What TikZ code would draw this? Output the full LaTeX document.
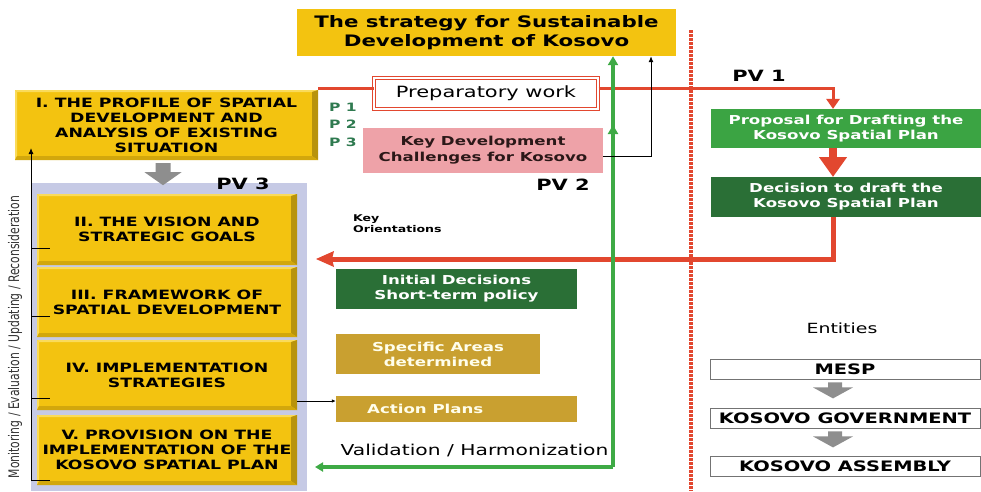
\documentclass[tikz,border=0pt]{standalone}
\usepackage{fontspec}
\setmainfont[FakeStretch=1.35]{DejaVu Sans}
\newfontfamily\plainfont{DejaVu Sans}
\usetikzlibrary{arrows.meta,calc}
\definecolor{ygold}{HTML}{F3C310}
\definecolor{ydark}{HTML}{B8930C}
\definecolor{ymid}{HTML}{D2A70C}
\definecolor{ylight}{HTML}{FADB5A}
\definecolor{lav}{HTML}{C6CAE5}
\definecolor{rline}{HTML}{E2472F}
\definecolor{gline}{HTML}{3EAA45}
\definecolor{gprop}{HTML}{3BA443}
\definecolor{gdark}{HTML}{2A6F36}
\definecolor{pinkbox}{HTML}{EEA2A8}
\definecolor{ochre}{HTML}{C9A030}
\definecolor{ptext}{HTML}{2F7A50}
\definecolor{greyarr}{HTML}{8E8E8E}
\definecolor{keytext}{HTML}{2B1818}
\begin{document}
\begin{tikzpicture}[x=1pt,y=-1pt,
  ybox/.style={fill=ygold, inner sep=0pt, align=center, text=black,
    font=\fontsize{12.8}{15}\selectfont\bfseries,
    path picture={
      \path (path picture bounding box.north east) coordinate (pNE)
            (path picture bounding box.south east) coordinate (pSE)
            (path picture bounding box.south west) coordinate (pSW)
            (path picture bounding box.north west) coordinate (pNW);
      \fill[ylight] (pNW) -- (pNE) -- ($(pNE)+(-6,2)$) -- ($(pNW)+(2,2)$) -- cycle;
      \fill[ylight] (pNW) -- (pSW) -- ($(pSW)+(2,-4)$) -- ($(pNW)+(2,2)$) -- cycle;
      \fill[ydark] (pNE) -- (pSE) -- ($(pSE)+(-6,-4)$) -- ($(pNE)+(-6,2)$) -- cycle;
      \fill[ymid] (pSW) -- (pSE) -- ($(pSE)+(-6,-4)$) -- ($(pSW)+(2,-4)$) -- cycle;
    }},
  flatbox/.style={inner sep=0pt, align=center},
  whitebold/.style={text=white, font=\fontsize{12.3}{15}\selectfont\bfseries},
  pvlabel/.style={inner sep=0pt, font=\fontsize{15.5}{18}\selectfont\bfseries},
  plabel/.style={inner sep=0pt, text=ptext, font=\fontsize{11.5}{13}\selectfont\bfseries},
  entbox/.style={draw=black!55, line width=0.8pt, fill=white, inner sep=0pt,
    minimum width=270pt, minimum height=20pt, font=\fontsize{14.4}{16}\selectfont\bfseries},
  redthin/.style={draw=rline, line width=3pt},
  redthick/.style={draw=rline, line width=5pt},
  greenl/.style={draw=gline, line width=3.5pt},
  thinblack/.style={draw=black, line width=0.9pt}
]
\useasboundingbox (0,0) rectangle (981,491);

% dotted separator
\coordinate (dtop) at (691,30);
\coordinate (dbot) at (691,491);
\draw[rline, line width=3.5pt, dash pattern=on 2.5pt off 1.5pt] (dtop) -- (dbot);

% strategy box
\node[flatbox, fill=ygold, minimum width=379pt, minimum height=47pt,
  font=\fontsize{15.8}{19}\selectfont\bfseries] (strat) at (486.5,32.5)
  {The strategy for Sustainable\\Development of Kosovo};

% box I
\node[ybox, minimum width=303pt, minimum height=70pt] (I) at (166.5,125)
  {I. THE PROFILE OF SPATIAL\\DEVELOPMENT AND\\ANALYSIS OF EXISTING\\SITUATION};

% panel
\node[fill=lav, inner sep=0pt, minimum width=276pt, minimum height=308pt] (panel) at (169,337) {};

% yellow boxes
\node[ybox, minimum width=260pt, minimum height=71pt] (II) at (167,229.5)
  {II. THE VISION AND\\STRATEGIC GOALS};
\node[ybox, minimum width=260pt, minimum height=70pt] (III) at (167,302)
  {III. FRAMEWORK OF\\SPATIAL DEVELOPMENT};
\node[ybox, minimum width=260pt, minimum height=70pt] (IV) at (167,375)
  {IV. IMPLEMENTATION\\STRATEGIES};
\node[ybox, minimum width=260pt, minimum height=70pt] (V) at (167,450)
  {V. PROVISION ON THE\\IMPLEMENTATION OF THE\\KOSOVO SPATIAL PLAN};

\node[pvlabel] (pv3) at (243,184) {PV 3};

% grey arrow I -> panel
\fill[greyarr] ($(I.south)+(-11,3)$) -- ($(I.south)+(4,3)$) -- ($(I.south)+(4,12)$)
  -- ($(I.south)+(15,12)$) -- ($(I.south)+(-3.5,25)$) -- ($(I.south)+(-22,12)$)
  -- ($(I.south)+(-11,12)$) -- cycle;

% monitoring line
\coordinate (mbot) at (31,481);
\coordinate (mtop) at (31,148);
\draw[thinblack, -{Latex[length=6pt,width=5pt]}] (mbot) -- (mtop);
\foreach \yy in {248,316,398,480}{
  \draw[thinblack] (31,\yy) -- (50,\yy);
}
\node[rotate=90, inner sep=0pt, text=black!80] (mon) at (15,337)
  {\scalebox{1}[1.35]{\plainfont\fontsize{10.8}{13}\selectfont Monitoring / Evaluation / Updating / Reconsideration}};

% P labels
\node[plabel] (p1) at (343,107) {P 1};
\node[plabel] (p2) at (343,124.5) {P 2};
\node[plabel] (p3) at (343,142) {P 3};

% preparatory work
\node[flatbox, draw=rline, line width=1pt, double=white, double distance=2pt, fill=white,
  minimum width=224pt, minimum height=31pt, font=\fontsize{15.5}{18}\selectfont] (prep) at (486,93.5)
  {Preparatory work};

% key development
\node[flatbox, fill=pinkbox, minimum width=240pt, minimum height=45pt, text=keytext,
  font=\fontsize{12.3}{16}\selectfont\bfseries] (key) at (483,150.5)
  {Key Development\\Challenges for Kosovo};

\node[pvlabel] (pv2) at (563,185) {PV 2};
\node[pvlabel] (pv1) at (759,76) {PV 1};

% right column
\node[flatbox, fill=gprop, minimum width=270pt, minimum height=39pt, whitebold] (prop) at (846,128.5)
  {Proposal for Drafting the\\Kosovo Spatial Plan};
\node[flatbox, fill=gdark, minimum width=270pt, minimum height=40pt, whitebold] (dec) at (846,197)
  {Decision to draft the\\Kosovo Spatial Plan};

% red thin line: I -> prep -> proposal
\coordinate (r0) at (318,88);
\coordinate (r1) at (833,88);
\draw[redthin] (r0) -- (r0 -| prep.west);
\draw[redthin] (r0 -| prep.east) -- (r1) -- ($(r1 |- prop.north)+(0,-9)$);
\fill[rline] ($(r1 |- prop.north)+(-7,-10)$) -- ($(r1 |- prop.north)+(7,-10)$) -- (r1 |- prop.north) -- cycle;

% big red arrow proposal -> decision
\fill[rline] ($(r1 |- prop.south)+(-4,0)$) rectangle ($(r1 |- prop.south)+(4,10)$);
\fill[rline] ($(r1 |- prop.south)+(-14,9)$) -- ($(r1 |- prop.south)+(14,9)$) -- (r1 |- dec.north) -- cycle;

% red thick back to panel
\coordinate (r2) at (833,259);
\coordinate (r3) at (316,259);
\draw[redthick] (r1 |- dec.south) -- (r2) -- ($(r3)+(15,0)$);
\fill[rline] (r3) -- ($(r3)+(18,-8)$) -- ($(r3)+(16,0)$) -- ($(r3)+(18,8)$) -- cycle;

% key orientations
\node[inner sep=0pt, anchor=west, align=left, font=\fontsize{9.3}{11}\selectfont\bfseries] (ko) at (353,223.5)
  {Key\\Orientations};

% mid boxes
\node[flatbox, fill=gdark, minimum width=241pt, minimum height=40pt, whitebold] (init) at (456.5,289)
  {Initial Decisions\\Short-term policy};
\node[flatbox, fill=ochre, minimum width=204pt, minimum height=40pt, whitebold, text=white!92!yellow] (spec) at (438,354)
  {Specific Areas\\determined};
\node[flatbox, fill=ochre, minimum width=241pt, minimum height=26pt] (act) at (456.5,409) {};
\node[inner sep=0pt, anchor=west, whitebold, text=white!92!yellow] (acttxt) at (367,409) {Action Plans};
\draw[thinblack, -{Latex[length=4pt,width=3.5pt]}] (IV.east |- 0,401) -- (act.west |- 0,401);

% validation
\node[inner sep=0pt, font=\fontsize{15}{18}\selectfont] (val) at (474.5,450) {Validation / Harmonization};

% green line
\coordinate (g0) at (613,467);
\coordinate (g1) at (315,467);
\draw[greenl, -{Triangle[length=9pt,width=10pt]}] (g0) -- (g0 |- strat.south);
\draw[greenl, -{Triangle[length=9pt,width=10pt]}] (g0) -- (613,125);
\draw[greenl, -{Triangle[length=8pt,width=9pt]}] (g0) -- (g1);

% black line key -> strategy
\coordinate (b0) at (651,156);
\draw[thinblack, -{Latex[length=6pt,width=5pt]}] (key.east |- b0) -- (b0) -- (b0 |- strat.south);

% entities
\node[inner sep=0pt, font=\fontsize{14}{18}\selectfont] (ent) at (842,328) {Entities};
\node[entbox] (mesp) at (845,369) {MESP};
\node[entbox] (gov) at (845,418) {KOSOVO GOVERNMENT};
\node[entbox] (asm) at (845,466.5) {KOSOVO ASSEMBLY};
\foreach \a in {mesp, gov}{
  \fill[greyarr] ($(\a.south)+(-17,3)$) -- ($(\a.south)+(-3,3)$) -- ($(\a.south)+(-3,8)$)
    -- ($(\a.south)+(8,8)$) -- ($(\a.south)+(-12,19)$) -- ($(\a.south)+(-32,8)$)
    -- ($(\a.south)+(-17,8)$) -- cycle;
}
\end{tikzpicture}
\end{document}
